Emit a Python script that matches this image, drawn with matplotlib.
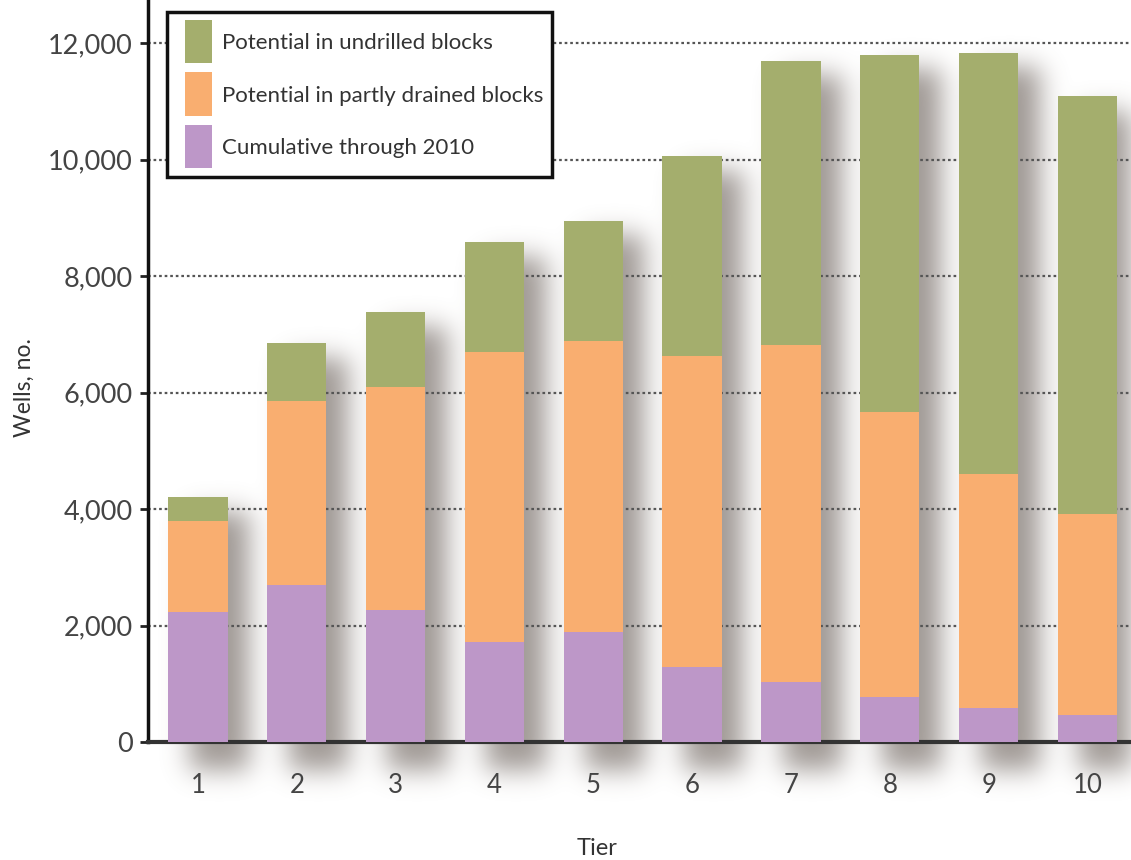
import numpy as np
import matplotlib
matplotlib.use('Agg')
import matplotlib.pyplot as plt
from matplotlib.patches import Rectangle
from matplotlib.ticker import FuncFormatter

plt.rcParams['font.family'] = ['Lato', 'DejaVu Sans']

tiers = [1, 2, 3, 4, 5, 6, 7, 8, 9, 10]
cumulative = [2230, 2700, 2270, 1720, 1890, 1290, 1030, 770, 580, 460]
partly_drained = [1570, 3150, 3830, 4980, 4990, 5340, 5790, 4900, 4020, 3460]
undrilled = [400, 1000, 1280, 1880, 2070, 3430, 4880, 6130, 7230, 7170]

labels = ['Cumulative through 2010',
          'Potential in partly drained blocks',
          'Potential in undrilled blocks']
colors = ['#bd97c8', '#f9ae70', '#a4ae6d']

W, H = 1131, 860
fig = plt.figure(figsize=(W / 100, H / 100), dpi=100)
fig.patch.set_facecolor('white')
ax = fig.add_axes([148 / W, 118 / H, 983 / W, 742 / H])
ax.set_facecolor('none')
ax.set_zorder(2)

x = np.array(tiers, dtype=float)
c = np.array(cumulative, dtype=float)
p = np.array(partly_drained, dtype=float)
u = np.array(undrilled, dtype=float)
totals = c + p + u
bar_w = 0.6

ax.set_xlim(0.495, 10.44)
ax.set_ylim(0, 12740)

ax.bar(x, c, bar_w, color=colors[0], zorder=3)
ax.bar(x, p, bar_w, bottom=c, color=colors[1], zorder=3)
ax.bar(x, u, bar_w, bottom=c + p, color=colors[2], zorder=3)

# soft drop shadow behind each bar, built in pixel space and blurred
shadow = np.zeros((H, W))
for xi, t in zip(x, totals):
    (x0, y0), (x1, y1) = ax.transData.transform([(xi - bar_w / 2, 0), (xi + bar_w / 2, t)])
    cx0, cx1 = int(x0 + 22), int(x1 + 22)
    cy0, cy1 = int(y0 - 28), int(y1 - 14)
    shadow[max(cy0, 0):min(cy1, H), max(cx0, 0):min(cx1, W)] = 1.0

sigma = 13
k = np.arange(-3 * sigma, 3 * sigma + 1)
kern = np.exp(-k ** 2 / (2 * sigma ** 2))
kern /= kern.sum()
shadow = np.apply_along_axis(lambda r: np.convolve(r, kern, mode='same'), 1, shadow)
shadow = np.apply_along_axis(lambda r: np.convolve(r, kern, mode='same'), 0, shadow)

rgba = np.zeros((H, W, 4))
rgba[..., 0] = 0.40
rgba[..., 1] = 0.36
rgba[..., 2] = 0.33
rgba[..., 3] = 0.62 * shadow
img = fig.figimage(rgba, 0, 0, origin='lower')
img.set_zorder(-1)

# dotted gridlines
ax.set_yticks(np.arange(0, 12001, 2000))
ax.yaxis.grid(True, linestyle=(0, (1.2, 1.3)), color='#555555', linewidth=1.6)
ax.set_axisbelow(True)
ax.yaxis.set_major_formatter(FuncFormatter(lambda v, pos: f'{int(v):,}'))

ax.set_xticks(x)
ax.set_xticklabels([str(t) for t in tiers])
ax.tick_params(axis='x', length=0, pad=22, labelsize=18.5, labelcolor='#444444')
ax.tick_params(axis='y', length=6, width=2, pad=5, labelsize=19.5,
               labelcolor='#444444', color='#222222')

for s in ['top', 'right']:
    ax.spines[s].set_visible(False)
ax.spines['left'].set_linewidth(2.5)
ax.spines['left'].set_color('#111111')
ax.spines['bottom'].set_linewidth(3)
ax.spines['bottom'].set_color('#333333')

ax.set_xlabel('Tier', fontsize=17, color='#333333')
ax.set_ylabel('Wells, no.', fontsize=16.5, color='#333333')
ax.xaxis.set_label_coords(0.457, -0.13)
ax.yaxis.set_label_coords(-0.115, 0.478)

# legend box, drawn in figure pixels
def px(xp, yp):
    return xp / W, 1 - yp / H

fx, fy = px(167, 177)
fig.add_artist(Rectangle((fx, fy), 385 / W, 165 / H, transform=fig.transFigure,
                         facecolor='white', edgecolor='#111111', linewidth=2.5, zorder=10))
for i, (lab, col) in enumerate(zip(labels[::-1], colors[::-1])):
    top = 20 + i * 52.5
    hx, hy = px(185, top + 43)
    fig.add_artist(Rectangle((hx, hy), 27 / W, 43 / H, transform=fig.transFigure,
                             facecolor=col, edgecolor='none', zorder=11))
    tx, ty = px(222, top + 23)
    fig.text(tx, ty, lab, fontsize=16, color='#333333', va='center', ha='left', zorder=12)

fig.savefig('out.png', dpi=100)
